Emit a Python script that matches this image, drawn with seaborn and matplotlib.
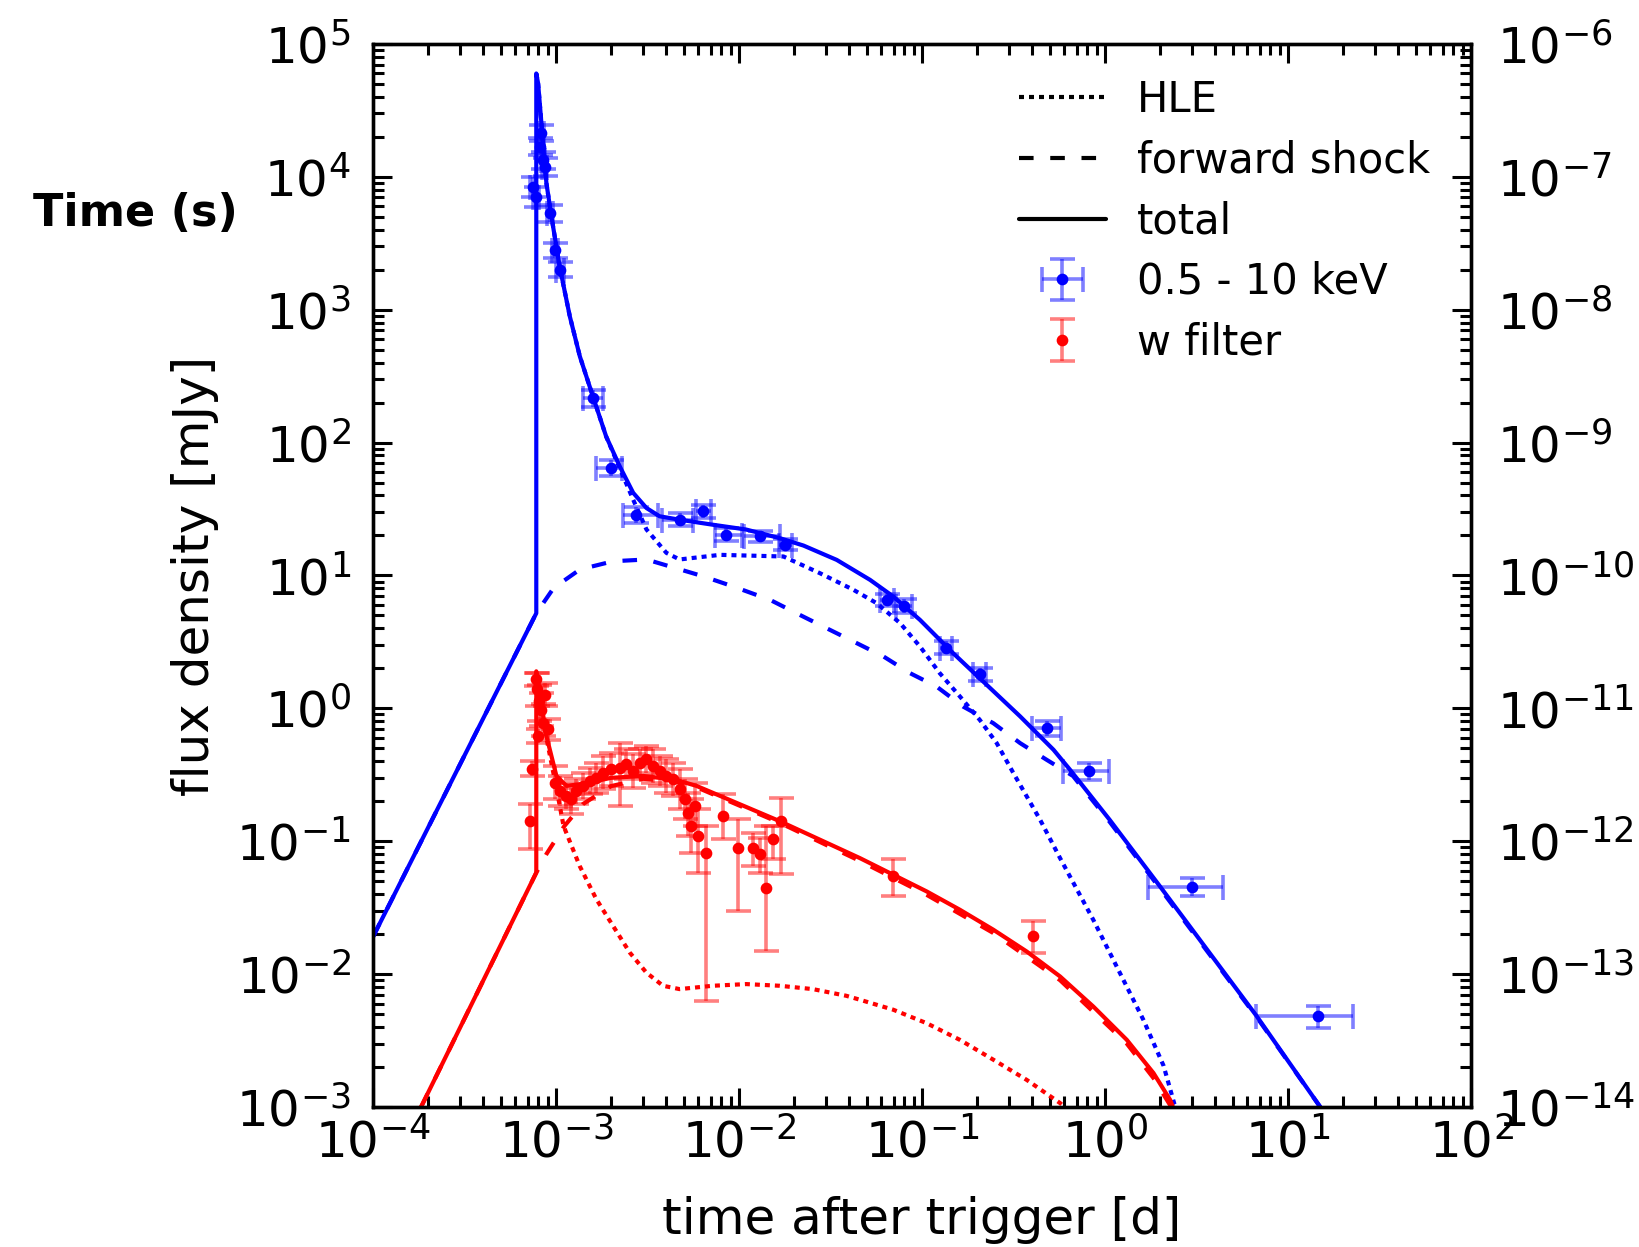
import numpy as np
import matplotlib
matplotlib.use("Agg")
import matplotlib.pyplot as plt
import seaborn as sns
from matplotlib.lines import Line2D
from matplotlib.ticker import LogLocator, NullFormatter

# ---------------- data ----------------
# X-ray 0.5 - 10 keV points (time in days, flux density in mJy)
xray_t = [7.48e-4, 7.81e-4, 8.15e-4, 8.32e-4, 8.49e-4, 8.67e-4, 9.24e-4, 9.84e-4, 1.05e-3,
          1.59e-3, 2.00e-3, 2.75e-3, 4.73e-3, 6.35e-3, 8.5e-3, 1.31e-2, 1.79e-2,
          6.41e-2, 7.96e-2, 0.135, 0.208, 0.484, 0.822, 2.99, 14.6]
xray_t_lo = [7.2e-4, 7.5e-4, 7.9e-4, 8.05e-4, 8.25e-4, 8.4e-4, 8.9e-4, 9.5e-4, 1.0e-3,
             1.40e-3, 1.66e-3, 2.33e-3, 3.8e-3, 5.8e-3, 7.36e-3, 1.06e-2, 1.65e-2,
             5.9e-2, 7.2e-2, 0.125, 0.19, 0.40, 0.586, 1.71, 6.70]
xray_t_hi = [7.75e-4, 8.1e-4, 8.4e-4, 8.6e-4, 8.75e-4, 8.95e-4, 9.6e-4, 1.02e-3, 1.1e-3,
             1.80e-3, 2.28e-3, 3.6e-3, 5.6e-3, 7.0e-3, 1.04e-2, 1.67e-2, 1.95e-2,
             7.0e-2, 8.8e-2, 0.145, 0.225, 0.573, 1.045, 4.39, 22.6]
xray_f = [8.46e3, 7.10e3, 1.69e4, 2.13e4, 1.34e4, 1.19e4, 5.32e3, 2.82e3, 2.0e3,
          216, 64.4, 28.7, 26.3, 30.4, 20.3, 19.7, 17.1,
          6.59, 5.87, 2.86, 1.80, 0.714, 0.338, 0.0456, 4.83e-3]
xray_f_lo = [7.0e3, 5.9e3, 1.45e4, 1.85e4, 1.15e4, 1.02e4, 4.6e3, 2.45e3, 1.75e3,
             185, 56, 25, 23.5, 27, 18.2, 17.8, 15.5,
             5.9, 5.2, 2.55, 1.60, 0.62, 0.29, 0.039, 3.9e-3]
xray_f_hi = [1.0e4, 8.4e3, 1.95e4, 2.45e4, 1.55e4, 1.38e4, 6.1e3, 3.2e3, 2.3e3,
             250, 74, 33, 29.5, 34, 22.6, 21.8, 18.9,
             7.3, 6.6, 3.2, 2.0, 0.81, 0.39, 0.053, 5.8e-3]

# w filter points
w_t = [7.18e-4, 7.43e-4, 7.75e-4, 7.87e-4, 7.97e-4, 8.08e-4, 8.28e-4, 8.49e-4, 8.74e-4, 9.04e-4,
       9.83e-4, 1.047e-3, 1.129e-3, 1.213e-3, 1.291e-3, 1.405e-3, 1.527e-3, 1.661e-3,
       1.806e-3, 2.005e-3, 2.227e-3, 2.422e-3, 2.633e-3, 2.863e-3, 3.113e-3, 3.385e-3,
       3.681e-3, 4.003e-3, 4.353e-3, 4.733e-3, 5.042e-3, 5.257e-3, 5.483e-3, 5.718e-3,
       5.963e-3, 6.621e-3, 8.165e-3, 9.86e-3, 1.190e-2, 1.294e-2, 1.407e-2, 1.530e-2,
       1.700e-2, 6.92e-2, 0.405]
w_f = [0.142, 0.348, 1.65, 1.39, 0.62, 1.13, 0.98, 0.78, 1.27, 0.70,
       0.276, 0.239, 0.219, 0.207, 0.239, 0.260, 0.284, 0.301,
       0.328, 0.348, 0.358, 0.379, 0.338, 0.390, 0.413, 0.368,
       0.338, 0.310, 0.292, 0.246, 0.207, 0.164, 0.130, 0.184,
       0.110, 0.0821, 0.155, 0.0895, 0.0895, 0.0798, 0.0448, 0.1034,
       0.142, 0.0548, 0.0195]
w_f_lo = [0.087, 0.310, 1.47, 1.04, 0.55, 0.80, 0.74, 0.62, 1.04, 0.58,
          0.207, 0.184, 0.174, 0.159, 0.190, 0.207, 0.225, 0.232,
          0.246, 0.260, 0.184, 0.292, 0.253, 0.310, 0.328, 0.276,
          0.260, 0.232, 0.219, 0.174, 0.146, 0.110, 0.0821, 0.130,
          0.0581, 0.0063, 0.1034, 0.0299, 0.0652, 0.0581, 0.0150, 0.0732,
          0.0564, 0.0388, 0.0143]
w_f_hi = [0.190, 0.401, 1.85, 1.85, 0.70, 1.51, 1.31, 1.07, 1.56, 0.83,
          0.368, 0.310, 0.276, 0.253, 0.292, 0.328, 0.358, 0.390,
          0.438, 0.464, 0.551, 0.491, 0.450, 0.491, 0.520, 0.491,
          0.438, 0.413, 0.390, 0.348, 0.292, 0.232, 0.207, 0.276,
          0.174, 0.130, 0.225, 0.146, 0.116, 0.1065, 0.130, 0.130,
          0.213, 0.0732, 0.0250]

# model curves: X-ray band (blue)
xr_total_t = [1e-4, 7.8e-4, 7.8e-4, 7.98e-4, 8.86e-4, 9.44e-4, 1.047e-3, 1.19e-3, 1.35e-3,
              1.59e-3, 1.88e-3, 2.23e-3, 2.64e-3, 3.12e-3, 3.68e-3, 4.73e-3, 7.19e-3,
              1.09e-2, 1.67e-2, 2.25e-2, 3.42e-2, 5.20e-2, 6.97e-2, 9.75e-2, 0.148, 0.226,
              0.344, 0.523, 0.644, 1.06, 2.0, 6.74, 15.0]
xr_total_f = [0.0191, 5.2, 6.0e4, 5.06e4, 8.96e3, 5.02e3, 2.11e3, 889, 445,
              223, 111, 66.2, 41.9, 32.2, 27.9, 26.3, 24.1,
              22.2, 19.1, 16.8, 13.1, 9.27, 6.94, 4.63, 2.60, 1.50,
              0.869, 0.488, 0.345, 0.145, 0.0456, 4.83e-3, 1.0e-3]
xr_fs_t = [1e-4, 7.8e-4, 9.7e-4, 1.35e-3, 2.05e-3, 3.12e-3, 6.37e-3, 9.31e-3, 1.48e-2,
           2.15e-2, 3.01e-2, 4.39e-2, 6.15e-2, 8.60e-2, 0.120, 0.168, 0.245, 0.344, 0.480,
           0.668, 1.06, 2.0, 6.74, 15.0]
xr_fs_f = [0.0191, 5.2, 8.05, 11.1, 12.8, 13.2, 9.86, 8.26, 6.55,
           5.05, 4.01, 3.10, 2.46, 1.84, 1.46, 1.03, 0.774, 0.547, 0.410,
           0.31, 0.14, 0.044, 4.75e-3, 1.0e-3]
xr_hle_t = [7.8e-4, 7.98e-4, 8.86e-4, 9.44e-4, 1.047e-3, 1.19e-3, 1.35e-3, 1.59e-3, 1.88e-3,
            2.23e-3, 2.64e-3, 3.12e-3, 4.01e-3, 4.73e-3, 7.87e-3, 1.75e-2, 2.77e-2, 4.22e-2,
            5.65e-2, 7.59e-2, 9.75e-2, 0.125, 0.161, 0.207, 0.256, 0.316, 0.442, 0.567,
            0.863, 1.62, 2.09, 2.39, 2.45]
xr_hle_f = [6.0e4, 5.06e4, 8.96e3, 5.02e3, 2.11e3, 889, 445, 223, 111,
            64, 37.2, 22.2, 14.8, 13.2, 14.3, 13.9, 10.4, 7.80,
            6.19, 4.38, 2.92, 1.84, 1.23, 0.818, 0.547, 0.325, 0.145, 0.075,
            0.0256, 4.53e-3, 2.04e-3, 1.06e-3, 1.0e-3]

# model curves: w filter (red)
w_total_t = [1.83e-4, 7.8e-4, 7.8e-4, 8.86e-4, 1.005e-3, 1.14e-3, 1.4e-3, 2.0e-3, 3.0e-3,
             4.5e-3, 5.85e-3, 1.66e-2, 4.58e-2, 6.97e-2, 0.106, 0.161, 0.245, 0.373,
             0.568, 0.863, 1.315, 1.84, 2.27, 2.35]
w_total_f = [1e-3, 0.058, 1.9, 0.619, 0.310, 0.261, 0.27, 0.30, 0.31,
             0.29, 0.261, 0.142, 0.0746, 0.0559, 0.0419, 0.0305, 0.0216, 0.0148,
             9.6e-3, 5.7e-3, 3.2e-3, 1.8e-3, 1.13e-3, 1e-3]
w_fs_t = [1.83e-4, 7.8e-4, 8.86e-4, 1.11e-3, 1.4e-3, 2.0e-3, 3.0e-3, 4.5e-3, 5.85e-3,
          1.66e-2, 4.58e-2, 0.106, 0.245, 0.568, 1.315, 1.84, 2.3]
w_fs_f = [1e-3, 0.058, 0.080, 0.130, 0.19, 0.26, 0.295, 0.28, 0.255,
          0.138, 0.071, 0.0395, 0.0204, 9.0e-3, 3.0e-3, 1.65e-3, 1e-3]
w_hle_t = [7.8e-4, 8.86e-4, 1.005e-3, 1.10e-3, 1.346e-3, 1.661e-3, 2.047e-3, 2.525e-3,
           3.113e-3, 3.84e-3, 4.73e-3, 7.20e-3, 1.094e-2, 1.664e-2, 2.53e-2, 3.85e-2,
           4.58e-2, 6.97e-2, 0.106, 0.161, 0.245, 0.373, 0.568, 0.60]
w_hle_f = [1.9, 0.60, 0.25, 0.13, 0.0652, 0.0366, 0.0231, 0.01456,
           0.01028, 8.17e-3, 7.71e-3, 8.17e-3, 8.41e-3, 8.17e-3, 7.71e-3, 6.87e-3,
           6.41e-3, 5.39e-3, 4.27e-3, 3.20e-3, 2.27e-3, 1.60e-3, 1.07e-3, 1.0e-3]

legend_labels = ["HLE", "forward shock", "total", "0.5 - 10 keV", "w filter"]

# ---------------- figure ----------------
sns.set_style("ticks")
plt.rcParams["font.family"] = ["DejaVu Sans"]
plt.rcParams["mathtext.fontset"] = "dejavusans"
plt.rcParams.update({"text.color": "black", "axes.labelcolor": "black",
                     "xtick.color": "black", "ytick.color": "black",
                     "axes.edgecolor": "black"})

fig = plt.figure(figsize=(1639 / 200, 1247 / 200), dpi=200)
ax = fig.add_axes([0.2276, 0.1123, 0.6699, 0.8524])
ax.set_xscale("log")
ax.set_yscale("log")

LW = 1.5
DOT = (0, (1.2, 1.2))
DASH = (0, (3.5, 4))
BLUE = (0, 0, 1)
RED = (1, 0, 0)

for t, f, col, ls in [
    (xr_hle_t, xr_hle_f, BLUE, DOT),
    (xr_fs_t, xr_fs_f, BLUE, DASH),
    (xr_total_t, xr_total_f, BLUE, "-"),
    (w_hle_t, w_hle_f, RED, DOT),
    (w_fs_t, w_fs_f, RED, DASH),
    (w_total_t, w_total_f, RED, "-"),
]:
    sns.lineplot(x=t, y=f, ax=ax, sort=False, estimator=None, color=col,
                 linestyle=ls, linewidth=LW, legend=False)

xt = np.array(xray_t); xf = np.array(xray_f)
eb_x = ax.errorbar(xt, xf,
                   xerr=[xt - np.array(xray_t_lo), np.array(xray_t_hi) - xt],
                   yerr=[xf - np.array(xray_f_lo), np.array(xray_f_hi) - xf],
                   fmt="o", ms=3.2, color=BLUE, ecolor=(0, 0, 1, 0.5),
                   elinewidth=1.3, capsize=4.5, capthick=1.3, zorder=4)
wt = np.array(w_t); wf = np.array(w_f)
eb_w = ax.errorbar(wt, wf,
                   yerr=[wf - np.array(w_f_lo), np.array(w_f_hi) - wf],
                   fmt="o", ms=3.2, color=RED, ecolor=(1, 0, 0, 0.5),
                   elinewidth=1.3, capsize=4.5, capthick=1.3, zorder=4)

ax.set_xlim(1e-4, 1e2)
ax.set_ylim(1e-3, 1e5)

for axis in (ax.xaxis, ax.yaxis):
    axis.set_major_locator(LogLocator(base=10, numticks=20))
    axis.set_minor_locator(LogLocator(base=10, subs=np.arange(2, 10), numticks=100))
    axis.set_minor_formatter(NullFormatter())

ax.tick_params(which="both", direction="in", top=True, right=False, width=1.1)
ax.tick_params(which="major", length=7)
ax.tick_params(which="minor", length=4)
ax.tick_params(axis="x", which="major", labelsize=18, pad=4)
ax.tick_params(axis="y", which="major", labelsize=18, pad=8)
for s in ax.spines.values():
    s.set_linewidth(1.2)

ax.set_xlabel("time after trigger [d]", fontsize=18, labelpad=10)
ax.set_ylabel("flux density [mJy]", fontsize=18, labelpad=6)

ax2 = ax.twinx()
ax2.set_yscale("log")
ax2.set_ylim(1e-14, 1e-6)
ax2.yaxis.set_major_locator(LogLocator(base=10, numticks=20))
ax2.yaxis.set_minor_locator(LogLocator(base=10, subs=np.arange(2, 10), numticks=100))
ax2.yaxis.set_minor_formatter(NullFormatter())
ax2.tick_params(which="both", direction="in", width=1.1)
ax2.tick_params(which="major", length=7, labelsize=18, pad=9.5)
ax2.tick_params(which="minor", length=4)
for s in ax2.spines.values():
    s.set_linewidth(1.2)

fig.text(0.0824, 0.829, "Time (s)", ha="center", va="center",
         fontsize=16, fontweight="bold")

h_hle = Line2D([], [], color="black", linestyle=DOT, linewidth=LW)
h_fs = Line2D([], [], color="black", linestyle=DASH, linewidth=LW)
h_tot = Line2D([], [], color="black", linestyle="-", linewidth=LW)
ax2.legend([h_hle, h_fs, h_tot, eb_x, eb_w], legend_labels,
           loc="upper left", bbox_to_anchor=(0.569, 0.987), frameon=False,
           fontsize=15, borderpad=0, handlelength=2.1, handletextpad=0.75,
           labelspacing=0.45)

fig.savefig("out.png", dpi=200)
